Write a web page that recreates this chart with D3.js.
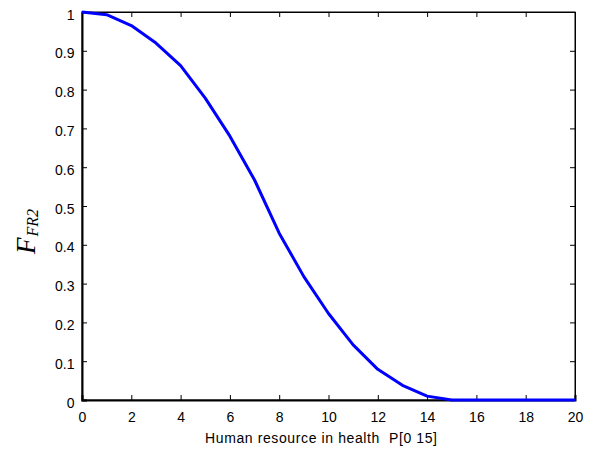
<!DOCTYPE html>
<html><head><meta charset="utf-8">
<script src="https://cdn.jsdelivr.net/npm/d3@7"></script>
<style>body{margin:0;background:#fff}</style>
</head><body>
<svg id="c" width="592" height="456"></svg>
<script>
const xValues = [0,1,2,3,4,5,6,7,8,9,10,11,12,13,14,15,16,17,18,19,20];
const fValues = [1.0,0.993,0.965,0.92,0.862,0.778,0.68,0.567,0.43,0.318,0.223,0.142,0.079,0.038,0.01,0,0,0,0,0,0];
const xTicks = [0,2,4,6,8,10,12,14,16,18,20];
const yTicks = [0,0.1,0.2,0.3,0.4,0.5,0.6,0.7,0.8,0.9,1];
const xLabel = "Human resource in health  P[0 15]";

const svg = d3.select("#c");
const L=82,R=575,T=12,B=400;
const x = d3.scaleLinear().domain([0,20]).range([L,R]);
const y = d3.scaleLinear().domain([0,1]).range([B,T]);
const font = "Liberation Sans, Arial, sans-serif";

svg.append("rect").attr("x",L).attr("y",T).attr("width",R-L).attr("height",B-T)
  .attr("fill","none").attr("stroke","#000").attr("stroke-width",1);

const fmt = d => d===0?"0":d===1?"1":String(d);
const gx = svg.append("g").attr("transform",`translate(0,${B})`)
  .call(d3.axisBottom(x).tickValues(xTicks).tickSize(-5).tickPadding(12.5).tickFormat(d=>d));
const gx2 = svg.append("g").attr("transform",`translate(0,${T})`)
  .call(d3.axisTop(x).tickValues(xTicks).tickSize(-5).tickFormat(""));
const gy = svg.append("g").attr("transform",`translate(${L},0)`)
  .call(d3.axisLeft(y).tickValues(yTicks).tickSize(-5).tickPadding(7.5).tickFormat(fmt));
const gy2 = svg.append("g").attr("transform",`translate(${R},0)`)
  .call(d3.axisRight(y).tickValues(yTicks).tickSize(-5).tickFormat(""));
[gx,gx2,gy,gy2].forEach(g=>{
  g.select(".domain").attr("stroke","#000").attr("stroke-width",1);
  g.selectAll(".tick line").attr("stroke","#000");
  g.selectAll("text").attr("font-family",font).attr("font-size",14).attr("fill","#000");
});
gy.selectAll(".tick text").attr("dy","0.5em");
gx.select(".domain").attr("stroke-width",2);
gy.select(".domain").attr("stroke-width",2);

svg.append("path").datum(xValues.map((v,i)=>[v,fValues[i]]))
  .attr("d",d3.line().x(d=>x(d[0])).y(d=>y(d[1])))
  .attr("fill","none").attr("stroke","#0000ff").attr("stroke-width",3)
  .attr("stroke-linejoin","round");

svg.append("text").attr("x",205).attr("y",443).attr("text-anchor","start")
  .attr("font-family",font).attr("font-size",14).style("white-space","pre")
  .attr("textLength",232).attr("lengthAdjust","spacing").text(xLabel);

const yl = svg.append("text").attr("transform","translate(35,254) rotate(-90)")
  .attr("text-anchor","start").attr("font-family","Liberation Serif, Times New Roman, serif")
  .attr("font-style","italic");
yl.append("tspan").attr("font-size",27).text("F");
yl.append("tspan").attr("font-size",16).attr("dy",3).attr("dx",1).text("FR2");
</script>
</body></html>
